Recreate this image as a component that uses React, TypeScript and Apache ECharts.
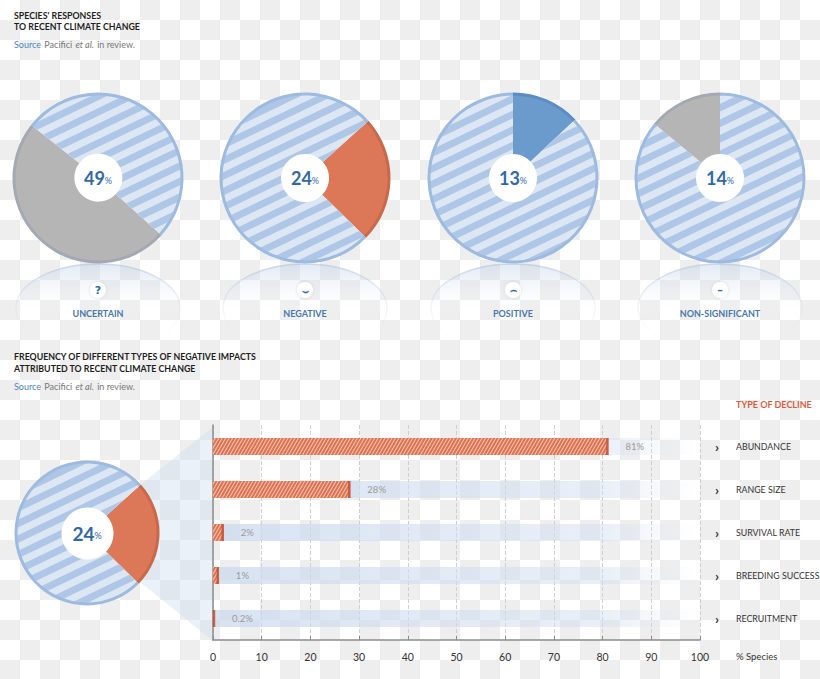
import React, { useEffect, useRef } from 'react';
import * as echarts from 'echarts';

// ---- data ----
const responseCategories = ['UNCERTAIN', 'NEGATIVE', 'POSITIVE', 'NON-SIGNIFICANT'];
const responseValues = [49, 24, 13, 14];
const responseIcons = ['?', '⌣', '⌢', '–'];

const impactCategories = ['ABUNDANCE', 'RANGE SIZE', 'SURVIVAL RATE', 'BREEDING SUCCESS', 'RECRUITMENT'];
const impactValues = [81, 28, 2, 1, 0.2];
const negativeShare = 24;

// ---- layout / style ----
const FONT = 'Lato, "Open Sans", sans-serif';
const pieCenters = [[98, 178], [305, 178], [513, 178], [720, 178]];
const pieStartAngles = [-42, 42, 90, 90];
const sliceFirst = [true, true, true, false];
const sliceColors = ['#b5b5b5', '#dc7757', '#6b9bcd', '#b5b5b5'];
const ringColors = ['#a2a9b3', '#c9694b', '#5b8cc2', '#a2a9b3'];
const restColor = '#dde6f3';
const restRing = '#9dbae0';
const textBlue = '#2f6aa8';

const stripeDecal = {
  symbol: 'rect',
  symbolSize: 1,
  color: '#afc7e7',
  dashArrayX: [1, 0],
  dashArrayY: [7, 7],
  rotation: -Math.PI / 7,
};

const hatchDecal = {
  symbol: 'rect',
  symbolSize: 1,
  color: 'rgba(255,232,222,0.7)',
  dashArrayX: [1, 0],
  dashArrayY: [1, 2],
  rotation: -Math.PI / 3,
};

function pieSeries(value: number, name: string, idx: number, center: number[], r: number, hole: number, start: number, first: boolean) {
  const main = [
    { name, value, itemStyle: { color: sliceColors[idx] } },
    { name: 'other', value: 100 - value, itemStyle: { color: restColor, decal: stripeDecal } },
  ];
  const ring = [
    { name, value, itemStyle: { color: ringColors[idx] } },
    { name: 'other', value: 100 - value, itemStyle: { color: restRing } },
  ];
  const d1 = first ? main : main.slice().reverse();
  const d2 = first ? ring : ring.slice().reverse();
  const common = {
    type: 'pie',
    center,
    startAngle: start,
    clockwise: true,
    silent: true,
    label: { show: false },
    labelLine: { show: false },
    emphasis: { disabled: true },
    avoidLabelOverlap: false,
  };
  return [
    { ...common, radius: [0, r - 1], data: d1 },
    { ...common, radius: [r - 2.5, r + 0.5], data: d2 },
    {
      ...common,
      radius: [0, hole],
      data: [{ name, value }],
      itemStyle: { color: '#ffffff' },
      label: {
        show: true,
        position: 'center',
        formatter: `{v|${value}}{p|%}`,
        rich: {
          v: { fontSize: hole > 25 ? 19 : 18, fontWeight: 'bold', color: textBlue, fontFamily: FONT },
          p: { fontSize: 9, color: textBlue, fontFamily: FONT, padding: [5, 0, 0, 0] },
        },
      },
    },
  ];
}

export default function App() {
  const ref = useRef<HTMLDivElement>(null);
  useEffect(() => {
    if (!ref.current) return;
    const chart = echarts.init(ref.current, undefined, { renderer: 'svg' });

    const series: any[] = [];
    responseValues.forEach((v, i) => {
      series.push(...pieSeries(v, responseCategories[i], i, pieCenters[i], 85, 24, pieStartAngles[i], sliceFirst[i]));
    });
    series.push(...pieSeries(negativeShare, 'NEGATIVE', 1, [87, 533], 72, 26, 42, true));

    series.push({
      type: 'bar',
      xAxisIndex: 0,
      yAxisIndex: 0,
      data: impactValues,
      barWidth: 17,
      silent: true,
      itemStyle: { color: '#df7351', decal: hatchDecal },
      showBackground: true,
      backgroundStyle: {
        color: {
          type: 'linear', x: 0, y: 0, x2: 1, y2: 0,
          colorStops: [
            { offset: 0, color: 'rgba(203,218,238,0.75)' },
            { offset: 0.8, color: 'rgba(210,223,241,0.5)' },
            { offset: 1, color: 'rgba(225,233,245,0)' },
          ],
        },
      },
      label: {
        show: true,
        position: 'right',
        distance: 18,
        formatter: '{c}%',
        color: '#9a9a9a',
        fontSize: 9.5,
        fontFamily: FONT,
      },
    });
    series.push({
      type: 'scatter',
      xAxisIndex: 0,
      yAxisIndex: 0,
      silent: true,
      symbol: 'rect',
      symbolSize: [2.5, 17],
      itemStyle: { color: '#c0462a' },
      z: 3,
      data: impactValues.map((v, i) => [v, i]),
    });

    const graphic: any[] = [];
    const titleStyle = (text: string, x: number, y: number) => ({
      type: 'text', z: 100, silent: true,
      style: { text, x, y, fill: '#1e1e1e', font: `bold 8.8px ${FONT}`, textVerticalAlign: 'middle' },
    });
    const sourceText = (x: number, y: number) => ({
      type: 'text', z: 100, silent: true,
      style: {
        x, y, textVerticalAlign: 'middle',
        text: '{s|Source} {p|Pacifici} {i|et al.} {p|in review.}',
        rich: {
          s: { fill: '#4f86c0', font: `9px ${FONT}` },
          p: { fill: '#777777', font: `9px ${FONT}` },
          i: { fill: '#777777', font: `italic 9px ${FONT}` },
        },
      },
    });
    graphic.push(titleStyle("SPECIES' RESPONSES", 14, 15));
    graphic.push(titleStyle('TO RECENT CLIMATE CHANGE', 14, 26));
    graphic.push(sourceText(14, 44));
    graphic.push(titleStyle('FREQUENCY OF DIFFERENT TYPES OF NEGATIVE IMPACTS', 14, 356));
    graphic.push(titleStyle('ATTRIBUTED TO RECENT CLIMATE CHANGE', 14, 368));
    graphic.push(sourceText(14, 386));
    graphic.push({
      type: 'text', z: 100, silent: true,
      style: { text: 'TYPE OF DECLINE', x: 736, y: 404, fill: '#d95d3c', font: `bold 9px ${FONT}`, textVerticalAlign: 'middle' },
    });

    pieCenters.forEach(([cx], i) => {
      graphic.push({
        type: 'ellipse', z: 0, silent: true,
        shape: { cx, cy: 308, rx: 82, ry: 44 },
        style: {
          fill: {
            type: 'linear', x: 0, y: 0, x2: 0, y2: 1,
            colorStops: [
              { offset: 0, color: 'rgba(190,208,230,0.45)' },
              { offset: 0.35, color: 'rgba(230,237,246,0.2)' },
              { offset: 0.6, color: 'rgba(255,255,255,0)' },
              { offset: 1, color: 'rgba(255,255,255,0)' },
            ],
          },
          stroke: {
            type: 'linear', x: 0, y: 0, x2: 0, y2: 1,
            colorStops: [
              { offset: 0, color: 'rgba(175,195,222,0.6)' },
              { offset: 0.6, color: 'rgba(200,215,232,0.15)' },
              { offset: 1, color: 'rgba(255,255,255,0)' },
            ],
          },
          lineWidth: 1.5,
        },
      });
      graphic.push({
        type: 'circle', z: 50, silent: true,
        shape: { cx, cy: 290, r: 8 },
        style: { fill: '#ffffff', shadowBlur: 3, shadowColor: 'rgba(0,0,0,0.12)' },
      });
      graphic.push({
        type: 'text', z: 60, silent: true,
        style: {
          text: responseIcons[i], x: cx, y: 290, fill: textBlue,
          font: `bold 11px "DejaVu Sans", ${FONT}`, textAlign: 'center', textVerticalAlign: 'middle',
        },
      });
      graphic.push({
        type: 'text', z: 60, silent: true,
        style: {
          text: responseCategories[i], x: cx, y: 313, fill: '#4777ae',
          font: `bold 9px ${FONT}`, textAlign: 'center', textVerticalAlign: 'middle',
        },
      });
    });

    graphic.push({
      type: 'polygon', z: 0, silent: true,
      shape: { points: [[87, 533], [140, 485], [213, 427], [213, 641], [140, 582]] },
      style: { fill: 'rgba(205,219,238,0.4)' },
    });

    chart.setOption({
      animation: false,
      graphic,
      grid: { left: 213, right: 120, top: 425, bottom: 39, outerBoundsMode: 'none', containLabel: false },
      xAxis: {
        type: 'value', min: 0, max: 100, interval: 10,
        axisLine: { show: true, lineStyle: { color: '#8c8c8c', width: 1.5 } },
        axisTick: { show: true, inside: true, length: 4, lineStyle: { color: '#8c8c8c' } },
        axisLabel: { color: '#333', fontSize: 10.5, margin: 11, fontFamily: FONT },
        splitLine: { show: true, lineStyle: { type: 'dashed', color: '#cfcfcf' } },
        name: '% Species',
        nameLocation: 'end',
        nameGap: 36,
        nameTextStyle: { color: '#333', fontSize: 9.5, fontFamily: FONT, align: 'left', verticalAlign: 'top', padding: [11, 0, 0, 0] },
      },
      yAxis: [
        {
          type: 'category', data: impactCategories, inverse: true,
          axisLine: { show: true, lineStyle: { color: '#8c8c8c', width: 1.5 } },
          axisTick: { show: false }, axisLabel: { show: false }, splitLine: { show: false },
        },
        {
          type: 'category', data: impactCategories, inverse: true, position: 'right',
          axisLine: { show: false }, axisTick: { show: false }, splitLine: { show: false },
          axisLabel: {
            show: true, align: 'left', margin: 15,
            formatter: (v: string) => `{c|›}{n|${v}}`,
            rich: {
              c: { width: 21, fontSize: 14, fontWeight: 'bold', color: '#333', fontFamily: FONT },
              n: { fontSize: 8.8, color: '#333', fontFamily: FONT },
            },
          },
        },
      ],
      series,
    });
    return () => chart.dispose();
  }, []);

  return (
    <div
      ref={ref}
      style={{
        position: 'fixed', left: 0, top: 0, width: 820, height: 679,
        backgroundColor: '#ffffff',
        backgroundImage: 'conic-gradient(#eeeeee 25%, #ffffff 0 50%, #eeeeee 0 75%, #ffffff 0)',
        backgroundSize: '40px 40px',
      }}
    />
  );
}
